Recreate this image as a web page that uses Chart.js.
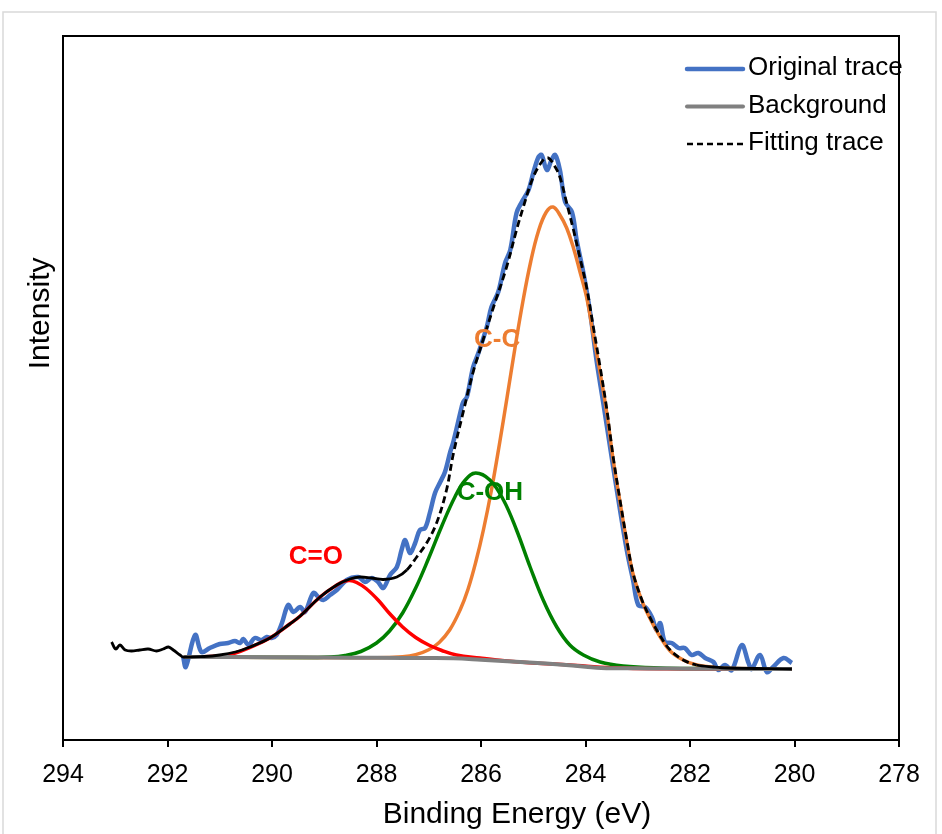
<!DOCTYPE html>
<html>
<head>
<meta charset="utf-8">
<script src="https://cdn.jsdelivr.net/npm/chart.js@4/dist/chart.umd.min.js"></script>
<style>
  html, body { margin: 0; padding: 0; background: #fff; }
</style>
</head>
<body>
<canvas id="xps" width="942" height="834"></canvas>
<script>
// C 1s XPS spectrum (arbitrary intensity units)
const xTicks = [294, 292, 290, 288, 286, 284, 282, 280, 278];

const origEnergy = [291.70, 291.65, 291.47, 291.35, 291.19, 291.00, 290.84, 290.71, 290.61, 290.55,
  290.45, 290.33, 290.20, 290.10, 290.01, 289.91, 289.81, 289.69, 289.59, 289.46,
  289.37, 289.21, 289.11, 289.02, 288.89, 288.76, 288.57, 288.35, 288.22, 288.09,
  287.97, 287.87, 287.74, 287.61, 287.52, 287.45, 287.36, 287.26, 287.17, 287.07,
  286.98, 286.88, 286.78, 286.69, 286.59, 286.53, 286.37, 286.34, 286.27, 286.15,
  286.05, 285.89, 285.80, 285.67, 285.54, 285.44, 285.32, 285.22, 285.09, 285.00,
  284.90, 284.84, 284.74, 284.65, 284.58, 284.49, 284.39, 284.26, 284.17, 284.04,
  283.91, 283.79, 283.66, 283.50, 283.37, 283.21, 283.09, 282.99, 282.86, 282.73,
  282.64, 282.57, 282.48, 282.35, 282.22, 282.10, 281.97, 281.84, 281.71, 281.55,
  281.46, 281.33, 281.20, 281.01, 280.88, 280.82, 280.66, 280.53, 280.41, 280.21,
  280.05];
const origCounts = [83, 73, 105, 88, 92, 96, 97, 99, 97, 101,
  95, 102, 100, 103, 102, 105, 117, 135, 128, 133,
  128, 147, 143, 140, 145, 150, 160, 163, 158, 162,
  158, 152, 165, 173, 190, 200, 187, 197, 210, 212,
  227, 247, 258, 268, 288, 298, 333, 338, 343, 373,
  387, 413, 433, 448, 477, 490, 527, 538, 550, 567,
  583, 585, 570, 580, 585, 570, 538, 528, 500, 467,
  427, 380, 337, 283, 240, 190, 160, 135, 133, 123,
  110, 117, 98, 97, 92, 92, 85, 87, 82, 78,
  70, 75, 70, 95, 77, 71, 85, 68, 73, 82,
  77];

const bgEnergy = [291.67, 290.0, 289.0, 288.0, 287.0, 286.53, 286.0, 285.5, 285.0, 284.5, 284.0, 283.7, 283.3, 282.8, 282.0, 281.0, 280.05];
const bgCounts = [83, 82.8, 82.5, 82.2, 82, 81.7, 80.3, 78.8, 77.3, 75.5, 73.3, 72, 71.8, 71.5, 71.3, 71.1, 71];

// envelope; the first points are the raw tail left of the fit window
const fitEnergy = [293.07, 292.99, 292.91, 292.81, 292.69, 292.53, 292.37, 292.21, 292.08, 291.98, 291.89, 291.76, 291.70,
  291.30, 291.00, 290.70, 290.42, 290.04, 289.66, 289.46, 289.08, 288.76, 288.51,
  288.32, 288.10, 287.87, 287.61, 287.42, 287.23, 287.04, 286.85, 286.66, 286.53,
  286.34, 286.15, 285.96, 285.76, 285.51, 285.32, 285.19, 285.00, 284.81, 284.71,
  284.58, 284.49, 284.36, 284.23, 284.11, 283.98, 283.85, 283.72, 283.59, 283.47,
  283.34, 283.21, 283.09, 282.92, 282.77, 282.57, 282.38, 282.13, 281.87, 281.55,
  281.30, 280.05];
const fitCounts = [98, 91, 95, 90, 89, 90, 91, 89, 91, 93, 90, 85, 83,
  83.5, 85, 88, 93, 102, 116, 124, 143, 155, 161,
  163, 162, 160.5, 163, 170, 183, 197, 217, 250, 286,
  328, 368, 400, 433, 473, 510, 533, 563, 580, 582,
  573, 563, 537, 510, 483, 453, 413, 373, 330, 283,
  240, 200, 167, 140, 123, 104, 90, 80, 75, 73,
  72, 71];
const dashedFrom = 287.42;
const dashedTo = 282.05;

const ccEnergy = [291.67, 288.00, 287.50, 287.25, 287.00, 286.80, 286.60, 286.40, 286.25, 286.10,
  285.95, 285.80, 285.65, 285.50, 285.35, 285.20, 285.05, 284.90, 284.75, 284.62,
  284.49, 284.36, 284.23, 284.11, 283.98, 283.85, 283.72, 283.59, 283.47, 283.34,
  283.21, 283.09, 282.92, 282.77, 282.57, 282.38, 282.13, 281.87, 281.55, 281.30, 280.05];
const ccCounts = [83, 82.2, 83.3, 85.4, 90.3, 97.6, 110, 130, 150.5, 178,
  211, 250, 295, 343, 392, 438, 478, 509, 528, 533,
  525, 512, 492, 469, 443, 405, 367, 326, 280, 238,
  198, 166, 139, 122, 103, 89, 80, 75, 72.7, 71.7, 71];

const cohEnergy = [291.67, 289.46, 288.89, 288.60, 288.30, 288.00, 287.75, 287.50, 287.25, 287.00,
  286.75, 286.50, 286.30, 286.10, 285.83, 285.57, 285.32, 285.06, 284.81, 284.55,
  284.30, 284.04, 283.72, 283.28, 282.57, 281.81, 280.05];
const cohCounts = [83, 82.5, 83, 84.5, 88.5, 97, 109, 127, 152, 182,
  214, 243, 260, 267, 260, 240, 210, 173, 140, 113,
  95, 85, 78, 74, 72, 71.5, 71];

const coEnergy = [291.67, 291.00, 290.70, 290.42, 290.04, 289.66, 289.46, 289.08, 288.76, 288.64,
  288.51, 288.38, 288.20, 287.97, 287.75, 287.50, 287.25, 287.00, 286.75, 286.47,
  286.02, 285.50, 285.00, 284.30, 283.50, 282.50, 280.05];
const coCounts = [83, 84, 87, 92.5, 102, 116, 124, 143, 155, 158.3,
  159.5, 157.5, 151.5, 140, 126.5, 113, 102.5, 95, 89.5, 85,
  82, 79, 77, 75, 72.3, 71.3, 71];

const peakNames = ['C=O', 'C-C', 'C-OH'];
const peakLabelEnergy = [289.16, 285.69, 285.83];
const peakLabelCounts = [183, 400, 247];

const FONT = "'Liberation Sans', Arial, sans-serif";
const BLUE = '#4472C4', GRAY = '#808080', ORANGE = '#ED7D31', GREEN = '#008000', RED = '#FF0000';

const pts = (xs, ys) => xs.map((x, i) => ({ x, y: ys[i] }));

function lineSet(label, xs, ys, color, width, order, extra) {
    return Object.assign({
        label,
        data: pts(xs, ys),
        borderColor: color,
        backgroundColor: color,
        borderWidth: width,
        order,
        pointRadius: 0,
        fill: false,
        tension: 0.4
    }, extra || {});
}

const datasets = [
    lineSet('Original trace', origEnergy, origCounts, BLUE, 4.5, 5, { inLegend: true, tension: 0.35 }),
    lineSet('Background', bgEnergy, bgCounts, GRAY, 4, 1, { inLegend: true }),
    lineSet('Fitting trace', fitEnergy, fitCounts, '#000', 2.8, 0, {
        inLegend: true,
        dash: [7, 4],
        tension: 0.35,
        segment: {
            borderDash: ctx => (ctx.p0.parsed.x <= dashedFrom && ctx.p0.parsed.x > dashedTo) ? [7, 4] : undefined
        }
    }),
    lineSet('C-C', ccEnergy, ccCounts, ORANGE, 3.5, 4),
    lineSet('C-OH', cohEnergy, cohCounts, GREEN, 3.5, 3),
    lineSet('C=O', coEnergy, coCounts, RED, 3.5, 2)
];
const peakColors = { 'C=O': RED, 'C-C': ORANGE, 'C-OH': GREEN };

const decor = {
    id: 'decor',
    beforeDraw(chart) {
        const { ctx, width, height } = chart;
        ctx.save();
        ctx.fillStyle = '#fff';
        ctx.fillRect(0, 0, width, height);
        ctx.strokeStyle = '#d9d9d9';
        ctx.lineWidth = 1.5;
        ctx.strokeRect(3, 12, width - 9, height);
        ctx.restore();
    },
    afterDatasetsDraw(chart) {
        const { ctx, scales: { x, y } } = chart;
        ctx.save();
        ctx.font = `bold 26px ${FONT}`;
        ctx.textAlign = 'center';
        ctx.textBaseline = 'middle';
        peakNames.forEach((name, i) => {
            ctx.fillStyle = peakColors[name];
            ctx.fillText(name, x.getPixelForValue(peakLabelEnergy[i]), y.getPixelForValue(peakLabelCounts[i]));
        });
        ctx.restore();
    },
    afterDraw(chart) {
        const { ctx, chartArea: a } = chart;
        ctx.save();
        // frame around plot
        ctx.strokeStyle = '#000';
        ctx.lineWidth = 2;
        ctx.strokeRect(a.left, a.top, a.right - a.left, a.bottom - a.top);

        // axis titles
        ctx.fillStyle = '#000';
        ctx.font = `30px ${FONT}`;
        ctx.textAlign = 'center';
        ctx.textBaseline = 'alphabetic';
        ctx.fillText('Binding Energy (eV)', a.left + (a.right - a.left) * 0.543, a.bottom + 83);
        ctx.save();
        ctx.translate(a.left - 14, a.top + (a.bottom - a.top) * 0.394);
        ctx.rotate(-Math.PI / 2);
        ctx.fillText('Intensity', 0, 0);
        ctx.restore();

        // legend, top right inside the plot
        ctx.font = `26px ${FONT}`;
        ctx.textAlign = 'left';
        const items = chart.data.datasets.filter(d => d.inLegend);
        items.forEach((d, i) => {
            const base = a.top + 39 + i * 37.5;
            const x0 = a.right - 212, x1 = a.right - 156;
            ctx.beginPath();
            ctx.strokeStyle = d.borderColor;
            ctx.lineWidth = d.dash ? 2.5 : d.borderWidth;
            ctx.setLineDash(d.dash ? [6, 4] : []);
            ctx.lineCap = d.dash ? 'butt' : 'round';
            ctx.moveTo(x0, base - 6);
            ctx.lineTo(x1, base - 6);
            ctx.stroke();
            ctx.setLineDash([]);
            ctx.fillStyle = '#000';
            ctx.fillText(d.label, a.right - 151, base);
        });
        ctx.restore();
    }
};

new Chart(document.getElementById('xps'), {
    type: 'line',
    data: { datasets },
    options: {
        responsive: false,
        animation: false,
        layout: { padding: { top: 36, right: 43, left: 0, bottom: 0 } },
        plugins: { legend: { display: false }, tooltip: { enabled: false } },
        scales: {
            x: {
                type: 'linear',
                reverse: true,
                min: 278,
                max: 294,
                afterBuildTicks: s => { s.ticks = xTicks.map(v => ({ value: v })); },
                afterFit: s => { s.height = 94; },
                ticks: {
                    color: '#000',
                    font: { family: FONT, size: 25 },
                    padding: 13,
                    maxRotation: 0
                },
                grid: {
                    display: true,
                    drawOnChartArea: false,
                    drawTicks: true,
                    tickLength: 7,
                    color: '#000',
                    lineWidth: 2
                },
                border: { display: true, color: '#000', width: 2 }
            },
            y: {
                type: 'linear',
                min: 0,
                max: 704,
                afterFit: s => { s.width = 63; },
                ticks: { display: false },
                grid: { display: false },
                border: { display: true, color: '#000', width: 2 }
            }
        }
    },
    plugins: [decor]
});
</script>
</body>
</html>
